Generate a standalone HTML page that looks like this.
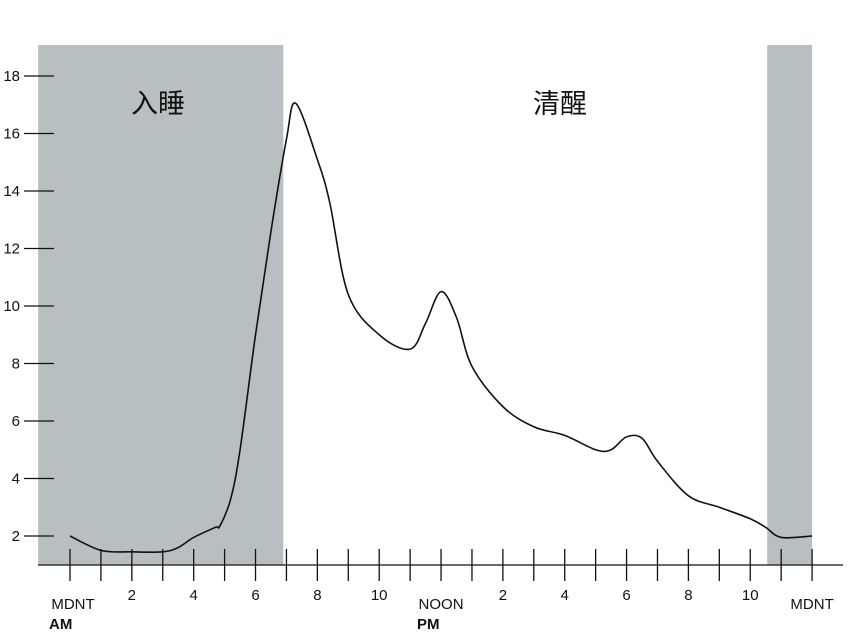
<!DOCTYPE html>
<html><head><meta charset="utf-8"><style>
body{margin:0;background:#fff}
svg{display:block;font-family:"Liberation Sans","Noto Sans CJK SC",sans-serif}
</style></head><body>
<svg id="chart" width="850" height="634" viewBox="0 0 850 634">
<g id="shade"></g><g id="axes"></g><g id="series"></g><g id="labels"></g>
</svg>
<script>
const hours=[0,1,2,3,3.5,4,4.7,4.85,5.2,5.5,6,6.5,7,7.3,8,8.4,9,10,11,11.5,12,12.5,13,14,15,16,17,17.5,18,18.5,19,20,21,22,22.5,23,24];
const values=[2.0,1.5,1.45,1.45,1.6,1.95,2.3,2.35,3.3,5.0,9.0,12.6,15.8,17.05,15.1,13.6,10.4,9.0,8.5,9.4,10.5,9.6,7.9,6.5,5.8,5.5,5.0,5.0,5.45,5.4,4.6,3.4,3.0,2.6,2.3,1.95,2.0];
const yTicks=[2,4,6,8,10,12,14,16,18];
const xTickLabels=[[0,'MDNT'],[2,'2'],[4,'4'],[6,'6'],[8,'8'],[10,'10'],[12,'NOON'],[14,'2'],[16,'4'],[18,'6'],[20,'8'],[22,'10'],[24,'MDNT']];
const shadeBands=[[-1.03,6.9],[22.55,24]];
const ns='http://www.w3.org/2000/svg';
const X=h=>70+h*30.92;
const Y=v=>536-(v-2)*28.75;
function mk(tag,attrs,parent){const e=document.createElementNS(ns,tag);for(const k in attrs)e.setAttribute(k,attrs[k]);document.getElementById(parent).appendChild(e);return e;}
shadeBands.forEach((b,i)=>{
 const r=mk('rect',{x:X(b[0]),y:45,width:X(b[1])-X(b[0]),height:520,fill:'#b7bfc1'},'shade');
 
 
});
let l=mk('line',{x1:38,y1:565,x2:843,y2:565,stroke:'#111','stroke-width':1.3},'axes');


for(let h=0;h<=24;h++){
 const t=mk('line',{x1:X(h),y1:549,x2:X(h),y2:581,stroke:'#111','stroke-width':1.3},'axes');
 
 
}
yTicks.forEach(v=>{
 const t=mk('line',{x1:24,y1:Y(v),x2:54,y2:Y(v),stroke:'#111','stroke-width':1.3},'axes');
 
 
 const tx=mk('text',{x:20,y:Y(v)+5,'text-anchor':'end','font-size':15,fill:'#111'},'labels');
 tx.textContent=v;
 
 
});
xTickLabels.forEach(([h,s])=>{
 const big=s.length>2;
 const tx=mk('text',{x:X(h)+(h===0?3:0),y:big?609:600,'text-anchor':'middle','font-size':15,fill:'#111'},'labels');
 tx.textContent=s;
 
 
});
[[49,'AM'],[417,'PM']].forEach(([x,s])=>{
 const tx=mk('text',{x:x,y:629,'font-size':15,'font-weight':'bold',fill:'#111'},'labels');
 tx.textContent=s;
 
 
});
[[158,'入睡'],[560,'清醒']].forEach(([x,s])=>{
 const tx=mk('text',{x:x,y:113,'text-anchor':'middle','font-size':27,fill:'#111'},'labels');
 tx.textContent=s;
 
 
});
const pts=hours.map((h,i)=>[X(h),Y(values[i])]);
let d='M'+pts[0][0]+','+pts[0][1];
for(let i=0;i<pts.length-1;i++){
 const p0=pts[Math.max(0,i-1)],p1=pts[i],p2=pts[i+1],p3=pts[Math.min(pts.length-1,i+2)];
 const c1=[p1[0]+(p2[0]-p0[0])/6,p1[1]+(p2[1]-p0[1])/6];
 const c2=[p2[0]-(p3[0]-p1[0])/6,p2[1]-(p3[1]-p1[1])/6];
 d+=` C${c1[0]},${c1[1]} ${c2[0]},${c2[1]} ${p2[0]},${p2[1]}`;
}
const path=mk('path',{d:d,fill:'none',stroke:'#111','stroke-width':1.6},'series');


</script>
</body></html>
